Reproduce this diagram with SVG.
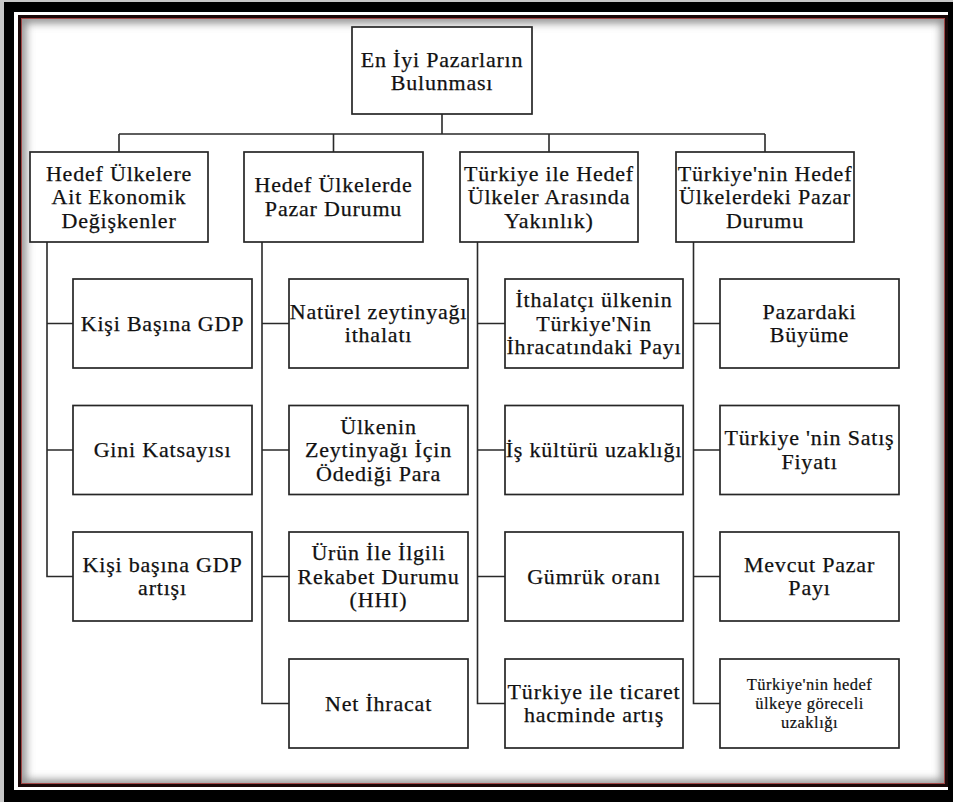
<svg xmlns="http://www.w3.org/2000/svg" width="953" height="802" viewBox="0 0 953 802">
  <defs>
    <style>
      .box { fill: #ffffff; stroke: #262626; stroke-width: 1.7; }
      .conn { fill: none; stroke: #2a2a2a; stroke-width: 1.6; }
      .t { font-size: 22px; letter-spacing: 0.8px; fill: #111111; stroke: #111111; stroke-width: 0.25px; text-anchor: middle; }
      .ts { font-size: 16.5px; letter-spacing: 0.5px; stroke-width: 0.2px; }
    </style>
    <clipPath id="inner">
      <rect x="21" y="18" width="925" height="767"/>
    </clipPath>
    <filter id="soft" x="-5%" y="-5%" width="110%" height="110%">
      <feGaussianBlur stdDeviation="4"/>
    </filter>
  </defs>

  <!-- picture frame -->
  <rect width="953" height="802" fill="#c8c8c8"/>
  <rect x="4" y="2" width="960" height="810" fill="#000000"/>
  <rect x="14" y="12" width="934" height="778" fill="#ffffff"/>
  <rect x="21" y="18" width="925" height="767" fill="#ffffff"/>
  <g clip-path="url(#inner)">
    <rect x="21" y="18" width="925" height="767" fill="none" stroke="#8a8a8a" stroke-width="10" filter="url(#soft)"/>
  </g>
  <rect x="19.5" y="16.5" width="927" height="769" fill="none" stroke="#1a0808" stroke-width="3"/>
  <rect x="21.5" y="18.5" width="923" height="765" fill="none" stroke="#a03030" stroke-width="1" opacity="0.8"/>

  <!-- connectors -->
  <g id="connectors" class="conn">
    <path d="M442 114 V134 M119 134 H765 M119 134 V152 M333.5 134 V152 M549 134 V152 M765 134 V152"/>
    <path d="M47 242 V576.5 H73 M47 323.5 H73 M47 450 H73"/>
    <path d="M262 242 V703.5 H289 M262 323.5 H289 M262 450 H289 M262 576.5 H289"/>
    <path d="M477.5 242 V703.5 H505 M477.5 323.5 H505 M477.5 450 H505 M477.5 576.5 H505"/>
    <path d="M693.5 242 V703.5 H720 M693.5 323.5 H720 M693.5 450 H720 M693.5 576.5 H720"/>
  </g>

  <!-- root -->
  <g id="root">
    <rect class="box" x="352" y="27" width="180" height="87"/>
    <text class="t" font-family="Liberation Serif, serif" x="442" y="66.5">En İyi Pazarların</text>
    <text class="t" font-family="Liberation Serif, serif" x="442" y="90">Bulunması</text>
  </g>

  <!-- second level -->
  <g id="ekonomik">
    <rect class="box" x="30" y="152" width="178" height="90"/>
    <text class="t" font-family="Liberation Serif, serif" x="119" y="180.5">Hedef Ülkelere</text>
    <text class="t" font-family="Liberation Serif, serif" x="119" y="204">Ait Ekonomik</text>
    <text class="t" font-family="Liberation Serif, serif" x="119" y="227.5">Değişkenler</text>
  </g>
  <g id="pazar-durumu">
    <rect class="box" x="244" y="152" width="179" height="90"/>
    <text class="t" font-family="Liberation Serif, serif" x="333.5" y="192.25">Hedef Ülkelerde</text>
    <text class="t" font-family="Liberation Serif, serif" x="333.5" y="215.75">Pazar Durumu</text>
  </g>
  <g id="yakinlik">
    <rect class="box" x="460" y="152" width="178" height="90"/>
    <text class="t" font-family="Liberation Serif, serif" x="549" y="180.5">Türkiye ile Hedef</text>
    <text class="t" font-family="Liberation Serif, serif" x="549" y="204">Ülkeler Arasında</text>
    <text class="t" font-family="Liberation Serif, serif" x="549" y="227.5">Yakınlık)</text>
  </g>
  <g id="turkiye-pazar">
    <rect class="box" x="676" y="152" width="178" height="90"/>
    <text class="t" font-family="Liberation Serif, serif" x="765" y="180.5">Türkiye'nin Hedef</text>
    <text class="t" font-family="Liberation Serif, serif" x="765" y="204">Ülkelerdeki Pazar</text>
    <text class="t" font-family="Liberation Serif, serif" x="765" y="227.5">Durumu</text>
  </g>

  <!-- column 1 leaves -->
  <g id="kisi-basina-gdp">
    <rect class="box" x="73" y="279" width="179" height="89"/>
    <text class="t" font-family="Liberation Serif, serif" x="162.5" y="330.5">Kişi Başına GDP</text>
  </g>
  <g id="gini">
    <rect class="box" x="73" y="405.5" width="179" height="89"/>
    <text class="t" font-family="Liberation Serif, serif" x="162.5" y="457">Gini Katsayısı</text>
  </g>
  <g id="gdp-artisi">
    <rect class="box" x="73" y="532" width="179" height="89"/>
    <text class="t" font-family="Liberation Serif, serif" x="162.5" y="571.75">Kişi başına GDP</text>
    <text class="t" font-family="Liberation Serif, serif" x="162.5" y="595.25">artışı</text>
  </g>

  <!-- column 2 leaves -->
  <g id="naturel">
    <rect class="box" x="289" y="279" width="179" height="89"/>
    <text class="t" font-family="Liberation Serif, serif" x="378.5" y="318.75">Natürel zeytinyağı</text>
    <text class="t" font-family="Liberation Serif, serif" x="378.5" y="342.25">ithalatı</text>
  </g>
  <g id="odedigi-para">
    <rect class="box" x="289" y="405.5" width="179" height="89"/>
    <text class="t" font-family="Liberation Serif, serif" x="378.5" y="433.5">Ülkenin</text>
    <text class="t" font-family="Liberation Serif, serif" x="378.5" y="457">Zeytinyağı İçin</text>
    <text class="t" font-family="Liberation Serif, serif" x="378.5" y="480.5">Ödediği Para</text>
  </g>
  <g id="rekabet">
    <rect class="box" x="289" y="532" width="179" height="89"/>
    <text class="t" font-family="Liberation Serif, serif" x="378.5" y="560">Ürün İle İlgili</text>
    <text class="t" font-family="Liberation Serif, serif" x="378.5" y="583.5">Rekabet Durumu</text>
    <text class="t" font-family="Liberation Serif, serif" x="378.5" y="607">(HHI)</text>
  </g>
  <g id="net-ihracat">
    <rect class="box" x="289" y="659" width="179" height="89"/>
    <text class="t" font-family="Liberation Serif, serif" x="378.5" y="710.5">Net İhracat</text>
  </g>

  <!-- column 3 leaves -->
  <g id="ithalatci">
    <rect class="box" x="505" y="279" width="178" height="89"/>
    <text class="t" font-family="Liberation Serif, serif" x="594" y="307">İthalatçı ülkenin</text>
    <text class="t" font-family="Liberation Serif, serif" x="594" y="330.5">Türkiye'Nin</text>
    <text class="t" font-family="Liberation Serif, serif" x="594" y="354">İhracatındaki Payı</text>
  </g>
  <g id="is-kulturu">
    <rect class="box" x="505" y="405.5" width="178" height="89"/>
    <text class="t" font-family="Liberation Serif, serif" x="594" y="457">İş kültürü uzaklığı</text>
  </g>
  <g id="gumruk">
    <rect class="box" x="505" y="532" width="178" height="89"/>
    <text class="t" font-family="Liberation Serif, serif" x="594" y="583.5">Gümrük oranı</text>
  </g>
  <g id="ticaret-hacmi">
    <rect class="box" x="505" y="659" width="178" height="89"/>
    <text class="t" font-family="Liberation Serif, serif" x="594" y="698.75">Türkiye ile ticaret</text>
    <text class="t" font-family="Liberation Serif, serif" x="594" y="722.25">hacminde artış</text>
  </g>

  <!-- column 4 leaves -->
  <g id="buyume">
    <rect class="box" x="720" y="279" width="179" height="89"/>
    <text class="t" font-family="Liberation Serif, serif" x="809.5" y="318.75">Pazardaki</text>
    <text class="t" font-family="Liberation Serif, serif" x="809.5" y="342.25">Büyüme</text>
  </g>
  <g id="satis-fiyati">
    <rect class="box" x="720" y="405.5" width="179" height="89"/>
    <text class="t" font-family="Liberation Serif, serif" x="809.5" y="445.25">Türkiye 'nin Satış</text>
    <text class="t" font-family="Liberation Serif, serif" x="809.5" y="468.75">Fiyatı</text>
  </g>
  <g id="pazar-payi">
    <rect class="box" x="720" y="532" width="179" height="89"/>
    <text class="t" font-family="Liberation Serif, serif" x="809.5" y="571.75">Mevcut Pazar</text>
    <text class="t" font-family="Liberation Serif, serif" x="809.5" y="595.25">Payı</text>
  </g>
  <g id="goreceli-uzaklik">
    <rect class="box" x="720" y="659" width="179" height="89"/>
    <text class="t ts" font-family="Liberation Serif, serif" x="809.5" y="689.5">Türkiye'nin hedef</text>
    <text class="t ts" font-family="Liberation Serif, serif" x="809.5" y="708.5">ülkeye göreceli</text>
    <text class="t ts" font-family="Liberation Serif, serif" x="809.5" y="727.5">uzaklığı</text>
  </g>
</svg>
